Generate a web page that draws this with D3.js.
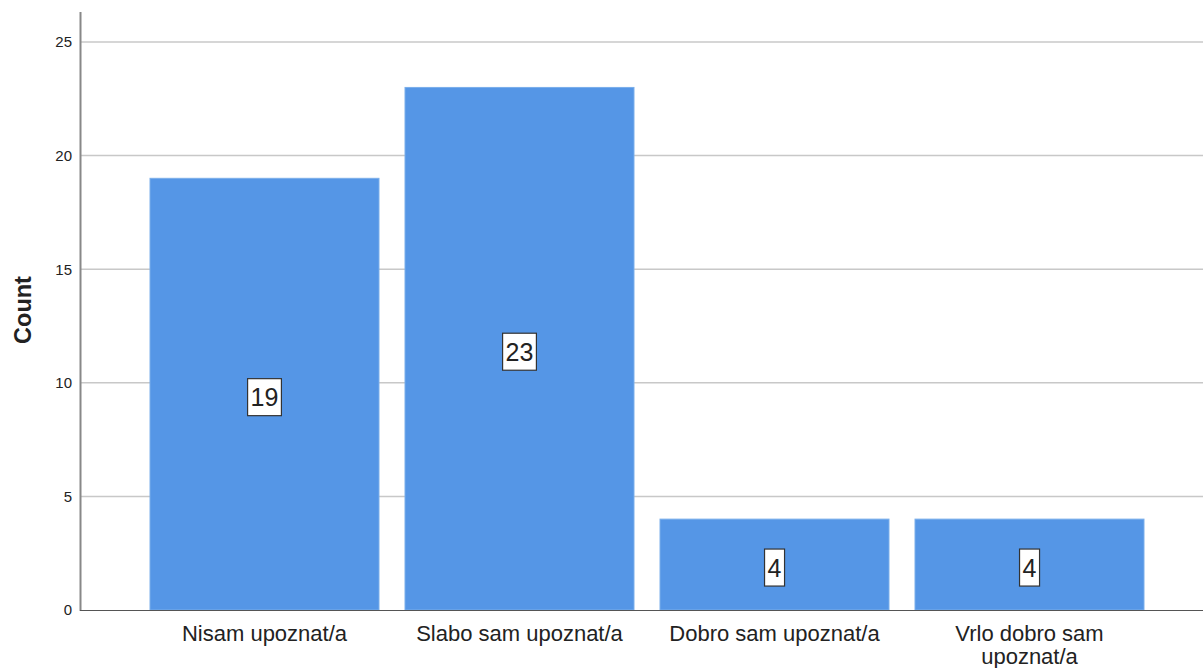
<!DOCTYPE html>
<html>
<head>
<meta charset="utf-8">
<script src="https://cdn.jsdelivr.net/npm/d3@7"></script>
<style>
  body { margin: 0; background: #fff; }
  svg { display: block; font-family: "Liberation Sans", Arial, sans-serif; }
</style>
</head>
<body>
<svg id="chart" width="1203" height="668"></svg>
<script>
// categories and counts
const categories = ["Nisam upoznat/a", "Slabo sam upoznat/a", "Dobro sam upoznat/a", "Vrlo dobro sam\nupoznat/a"];
const counts = [19, 23, 4, 4];
const yTicks = [0, 5, 10, 15, 20, 25];

const svg = d3.select("#chart"),
    width = +svg.attr("width"),
    height = +svg.attr("height");

const x = d3.scaleBand()
    .domain(categories)
    .range([137, 1157])
    .paddingInner(0.102)
    .paddingOuter(0.051);

const y = d3.scaleLinear()
    .domain([0, 25])
    .range([610, 42]);

// gridlines
svg.append("g")
    .selectAll("line")
    .data(yTicks.slice(1))
    .enter()
    .append("line")
    .attr("x1", 81)
    .attr("x2", width)
    .attr("y1", d => y(d))
    .attr("y2", d => y(d))
    .attr("stroke", "#c8c8c8")
    .attr("stroke-width", 1.5);

// bars
svg.append("g")
    .selectAll("rect")
    .data(counts)
    .enter()
    .append("rect")
    .attr("x", (d, i) => x(categories[i]))
    .attr("y", d => y(d))
    .attr("width", x.bandwidth())
    .attr("height", d => y(0) - y(d))
    .attr("fill", "#5596e6")
    .attr("stroke", "#7aaeea")
    .attr("stroke-width", 1);

// y axis
const yAxis = d3.axisLeft(y).tickValues(yTicks).tickSize(0).tickPadding(9);
const gy = svg.append("g")
    .attr("transform", "translate(81,0)")
    .call(yAxis);
gy.select(".domain").remove();
gy.selectAll("text")
    .attr("font-size", 15)
    .attr("fill", "#222")
    .attr("font-family", "Liberation Sans, Arial, sans-serif");

svg.append("line")
    .attr("x1", 80.5).attr("x2", 80.5)
    .attr("y1", 12).attr("y2", 611)
    .attr("stroke", "#888")
    .attr("stroke-width", 2);

// baseline
svg.append("line")
    .attr("x1", 80).attr("x2", width)
    .attr("y1", y(0) + 0.5).attr("y2", y(0) + 0.5)
    .attr("stroke", "#555")
    .attr("stroke-width", 1);

// x labels
const xl = svg.append("g")
    .selectAll("text")
    .data(categories)
    .enter()
    .append("text")
    .attr("x", d => x(d) + x.bandwidth() / 2)
    .attr("y", 641)
    .attr("text-anchor", "middle")
    .attr("font-size", 22)
    .attr("fill", "#222");
xl.each(function (d) {
    const lines = d.split("\n");
    d3.select(this).selectAll("tspan")
        .data(lines)
        .enter()
        .append("tspan")
        .attr("x", x(d) + x.bandwidth() / 2)
        .attr("dy", (l, i) => i === 0 ? 0 : 23)
        .text(l => l);
});

// y title
svg.append("text")
    .attr("transform", "translate(31,310) rotate(-90)")
    .attr("text-anchor", "middle")
    .attr("font-size", 23.5)
    .attr("font-weight", "bold")
    .attr("fill", "#222")
    .text("Count");

// value labels in boxes
const lab = svg.append("g")
    .selectAll("g")
    .data(counts)
    .enter()
    .append("g")
    .attr("transform", (d, i) => `translate(${x(categories[i]) + x.bandwidth() / 2},${y(d / 2) + 3})`);

lab.append("text")
    .attr("text-anchor", "middle")
    .attr("dy", "0.36em")
    .attr("font-size", 25)
    .attr("fill", "#222")
    .text(d => d);

lab.insert("rect", "text")
    .each(function () {
        const t = d3.select(this.parentNode).select("text").node().getBBox();
        d3.select(this)
            .attr("x", t.x - 3)
            .attr("y", -18.5)
            .attr("width", t.width + 6)
            .attr("height", 37)
            .attr("fill", "#fff")
            .attr("stroke", "#333")
            .attr("stroke-width", 1.2);
    });
</script>
</body>
</html>
